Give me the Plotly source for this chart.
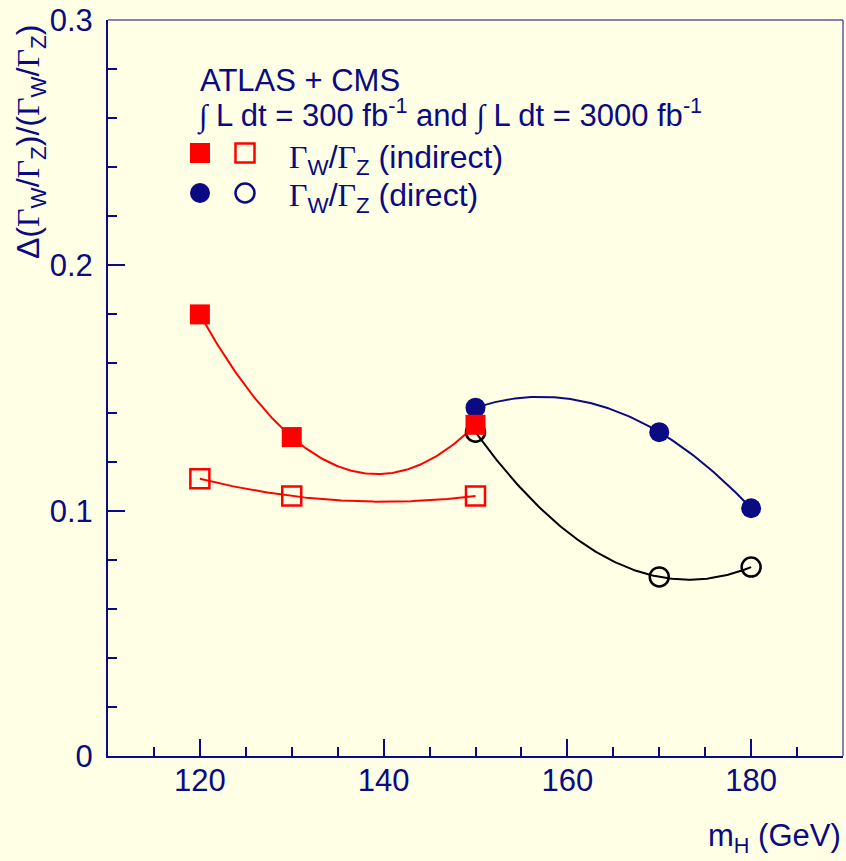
import numpy as np
import plotly.graph_objects as go

# ---- data ----
mh_indirect = [120, 130, 150]
indirect_300 = [0.180, 0.130, 0.135]     # filled squares (300 fb-1)
indirect_3000 = [0.113, 0.106, 0.106]    # open squares (3000 fb-1)

mh_direct = [150, 170, 180]
direct_300 = [0.142, 0.132, 0.101]       # filled circles (300 fb-1)
direct_3000 = [0.132, 0.073, 0.077]      # open circles (3000 fb-1)

x_ticks = [120, 140, 160, 180]
y_ticks = [0, 0.1, 0.2, 0.3]

NAVY = "#0a0a82"
RED = "#ff0000"
BG = "#ffffe6"
SANS = "Liberation Sans, Arial, Helvetica, sans-serif"
SERIF = "Liberation Serif"
FS = 31


def smooth(xs, ys, n=120):
    c = np.polyfit(xs, ys, len(xs) - 1)
    xx = np.linspace(min(xs), max(xs), n)
    return xx, np.polyval(c, xx)


fig = go.Figure()

for xs, ys, col in [
    (mh_indirect, indirect_300, RED),
    (mh_indirect, indirect_3000, RED),
    (mh_direct, direct_300, NAVY),
    (mh_direct, direct_3000, "#000000"),
]:
    xx, yy = smooth(xs, ys)
    fig.add_trace(go.Scatter(x=xx, y=yy, mode="lines",
                             line=dict(color=col, width=2),
                             hoverinfo="skip", showlegend=False))

fig.add_trace(go.Scatter(x=mh_indirect, y=indirect_3000, mode="markers",
                         marker=dict(symbol="square-open", size=19, color=RED,
                                     line=dict(width=2.5, color=RED)),
                         showlegend=False))
fig.add_trace(go.Scatter(x=mh_direct, y=direct_3000, mode="markers",
                         marker=dict(symbol="circle-open", size=19, color="#000000",
                                     line=dict(width=2.5, color="#000000")),
                         showlegend=False))
fig.add_trace(go.Scatter(x=mh_direct, y=direct_300, mode="markers",
                         marker=dict(symbol="circle", size=20, color=NAVY),
                         showlegend=False))
fig.add_trace(go.Scatter(x=mh_indirect, y=indirect_300, mode="markers",
                         marker=dict(symbol="square", size=20, color=RED),
                         showlegend=False))

# plot area geometry (px)
L, R, T, B = 108, 843, 20, 756
W, H = 846, 861


def px(x):
    return (x - L) / (R - L)


def py(y):
    return (B - y) / (B - T)


fig.update_layout(
    width=W, height=H,
    margin=dict(l=L, r=W - R, t=T, b=H - B),
    paper_bgcolor=BG, plot_bgcolor=BG,
    font=dict(family=SANS, color=NAVY, size=FS),
    showlegend=False,
)

fig.update_xaxes(
    range=[110, 190], tickvals=x_ticks, ticktext=[str(v) for v in x_ticks],
    ticks="inside", ticklen=17, tickwidth=1.5, tickcolor=NAVY,
    showline=True, linecolor=NAVY, linewidth=2, showgrid=False, zeroline=False,
    tickfont=dict(size=FS, color=NAVY, family=SANS), ticklabelstandoff=-4,
    minor=dict(dtick=5, tick0=110, ticks="inside", ticklen=9, tickwidth=1.5,
               tickcolor=NAVY, showgrid=False),
)
fig.update_yaxes(
    range=[0, 0.3], tickvals=y_ticks, ticktext=["0", "0.1", "0.2", "0.3"],
    ticks="inside", ticklen=17, tickwidth=1.5, tickcolor=NAVY,
    showline=True, linecolor=NAVY, linewidth=2, showgrid=False, zeroline=False,
    tickfont=dict(size=FS, color=NAVY, family=SANS), ticklabelstandoff=7,
    minor=dict(dtick=0.02, tick0=0, ticks="inside", ticklen=9, tickwidth=1.5,
               tickcolor=NAVY, showgrid=False),
)

shapes = [
    # frame top/right
    dict(type="line", xref="paper", yref="paper", x0=0, x1=1, y0=1, y1=1,
         line=dict(color=NAVY, width=1)),
    dict(type="line", xref="paper", yref="paper", x0=1, x1=1, y0=0, y1=1,
         line=dict(color=NAVY, width=1)),
]


def key(kind, cx, cy, size, filled, color):
    return dict(type=kind, xref="paper", yref="paper",
                xsizemode="pixel", ysizemode="pixel",
                xanchor=px(cx), yanchor=py(cy),
                x0=-size / 2, x1=size / 2, y0=-size / 2, y1=size / 2,
                fillcolor=color if filled else "rgba(0,0,0,0)",
                line=dict(color=color, width=0 if filled else 2.5))


shapes += [
    key("rect", 200, 153, 20, True, RED),
    key("rect", 245, 153, 19, False, RED),
    key("circle", 200, 193, 20, True, NAVY),
    key("circle", 245, 193, 19, False, NAVY),
]
fig.update_layout(shapes=shapes)

G = f'<span style="font-family:{SERIF}">Γ</span>'
ratio = f"{G}<sub>W</sub>/{G}<sub>Z</sub>"
INT = f'<span style="font-family:{SERIF}">∫</span>'

ann = [
    dict(text="ATLAS + CMS", x=px(198), y=py(81), size=FS),
    dict(text=f"{INT} L dt = 300 fb<sup>-1</sup> and {INT} L dt = 3000 fb<sup>-1</sup>",
         x=px(195), y=py(114), size=FS),
    dict(text=f"{ratio} (indirect)", x=px(287), y=py(159), size=32),
    dict(text=f"{ratio} (direct)", x=px(287), y=py(197), size=32),
]
annotations = [dict(text=a["text"], x=a["x"], y=a["y"],
                    xref="paper", yref="paper", xanchor="left", yanchor="middle",
                    showarrow=False, font=dict(size=a["size"], color=NAVY, family=SANS))
               for a in ann]
annotations.append(dict(text="m<sub>H</sub> (GeV)", xref="paper", yref="paper",
                        x=1.0, y=py(838), xanchor="right", yanchor="middle",
                        showarrow=False, font=dict(size=31, color=NAVY, family=SANS)))
annotations.append(dict(text=f"Δ({ratio})/({ratio})", xref="paper", yref="paper",
                        x=px(30), y=py(142), xanchor="center", yanchor="middle",
                        textangle=-90, showarrow=False,
                        font=dict(size=32, color=NAVY, family=SANS)))
fig.update_layout(annotations=annotations)

fig.write_html("out.html", config={"displayModeBar": False},
               post_script="document.body.style.margin='0';document.body.style.overflow='hidden';")
